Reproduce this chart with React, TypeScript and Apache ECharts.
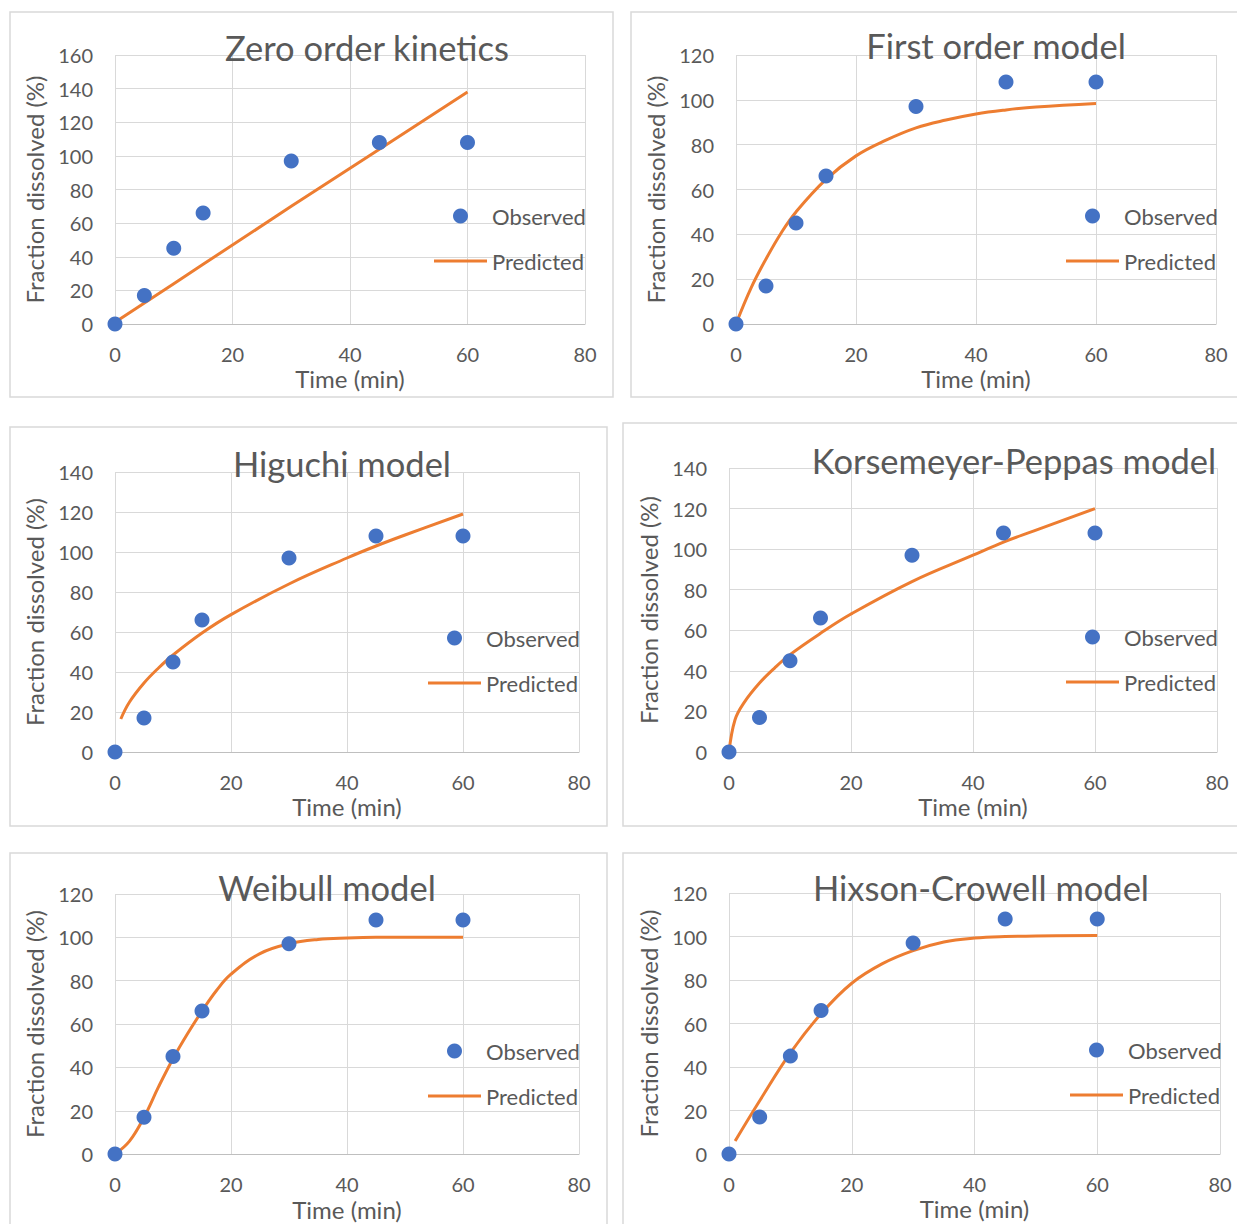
import React, { useEffect, useRef } from "react";
import * as echarts from "echarts";

// Observed dissolution data (shared by all six panels)
const obsTime = [0, 5, 10, 15, 30, 45, 60];
const observed = [0, 17, 45, 66, 97, 108, 108];

// Predicted curves
const zeroTime = [0, 5, 10, 15, 30, 45, 60];
const zeroPred = [1, 12.5, 24, 35.5, 70, 104, 138];

const firstTime = [0, 2.5, 5, 7.5, 10, 15, 20, 25, 30, 35, 40, 45, 50, 60];
const firstPred = [0, 16, 29, 40.5, 50, 64.5, 75, 82, 87.5, 91, 93.7, 95.5, 96.8, 98.4];

const higuchiTime = [1, 2.5, 5, 7.5, 10, 15, 20, 30, 40, 45, 50, 60];
const higuchiPred = [16.5, 25, 34.5, 42, 48.5, 59.5, 68.7, 84, 97, 103, 108.5, 119];

const kpTime = [0, 1, 2.5, 5, 7.5, 10, 15, 20, 30, 40, 45, 50, 60];
const kpPred = [0, 16, 24.5, 34, 41.5, 48, 58.5, 68, 84, 97, 103.5, 109, 120];

const weibullTime = [0, 2.5, 5, 7.5, 10, 12.5, 15, 17.5, 20, 25, 30, 35, 40, 45, 50, 60];
const weibullPred = [0, 6, 17, 31, 44, 55.5, 66, 75.5, 83, 92.5, 97, 99, 99.7, 100, 100, 100];

const hixsonTime = [1, 5, 10, 15, 20, 25, 30, 35, 40, 45, 50, 60];
const hixsonPred = [6, 24.5, 46.5, 64.5, 78.5, 87.5, 93.5, 97.5, 99.3, 100, 100.2, 100.5];

const titles = [
  "Zero order kinetics",
  "First order model",
  "Higuchi model",
  "Korsemeyer-Peppas model",
  "Weibull model",
  "Hixson-Crowell model",
];
const yMaxes = [160, 120, 140, 140, 120, 120];
const xTicks = { min: 0, max: 80, interval: 20 };
const predTimes = [zeroTime, firstTime, higuchiTime, kpTime, weibullTime, hixsonTime];
const predValues = [zeroPred, firstPred, higuchiPred, kpPred, weibullPred, hixsonPred];
const smoothFlags = [false, 0.4, 0.4, 0.4, 0.4, 0.4];

// Layout (pixels)
const layout = [
  { box: [10, 12, 603, 385], grid: [115, 55, 470, 269], title: [367, 47], yName: 34, xName: 378, legend: [434, 216] },
  { box: [631, 12, 620, 385], grid: [736, 55, 480, 269], title: [996, 45], yName: 655, xName: 378, legend: [1066, 216] },
  { box: [10, 427, 597, 399], grid: [115, 472, 464, 280], title: [342, 463], yName: 34, xName: 807, legend: [428, 638] },
  { box: [623, 423, 630, 403], grid: [729, 468, 488, 284], title: [1014, 460], yName: 648, xName: 807, legend: [1066, 637] },
  { box: [10, 853, 597, 400], grid: [115, 894, 464, 262], title: [327, 887], yName: 34, xName: 1209, legend: [428, 1051] },
  { box: [623, 853, 630, 400], grid: [729, 893, 491, 261], title: [981, 887], yName: 648, xName: 1207, legend: [1070, 1050] },
];

const FONT = "Lato";
const TEXT = "#595959";
const BLUE = "#4472C4";
const ORANGE = "#ED7D31";
const NAME_SIZE = 24;

function buildOption() {
  const grid: any[] = [];
  const xAxis: any[] = [];
  const yAxis: any[] = [];
  const series: any[] = [];
  const title: any[] = [];
  const legend: any[] = [];
  const graphic: any[] = [];

  layout.forEach((L, i) => {
    const [gl, gt, gw, gh] = L.grid;
    graphic.push({
      type: "rect",
      z: -10,
      shape: { x: L.box[0], y: L.box[1], width: L.box[2], height: L.box[3] },
      style: { fill: "none", stroke: "#d9d9d9", lineWidth: 1.5 },
    });
    grid.push({ left: gl, top: gt, width: gw, height: gh, containLabel: false });
    xAxis.push({
      gridIndex: i,
      type: "value",
      min: xTicks.min,
      max: xTicks.max,
      interval: xTicks.interval,
      axisLine: { show: true, onZero: false, lineStyle: { color: "#bfbfbf", width: 1 } },
      axisTick: { show: false },
      splitLine: { show: true, lineStyle: { color: "#d9d9d9", width: 1 } },
      axisLabel: { fontFamily: FONT, fontSize: 20, color: TEXT, margin: 20 },
      name: "Time (min)",
      nameLocation: "middle",
      nameGap: L.xName - (gt + gh) - 16,
      nameTextStyle: { fontFamily: FONT, fontSize: NAME_SIZE, color: TEXT, lineHeight: 28 },
    });
    yAxis.push({
      gridIndex: i,
      type: "value",
      min: 0,
      max: yMaxes[i],
      interval: 20,
      axisLine: { show: false },
      axisTick: { show: false },
      splitLine: { show: true, lineStyle: { color: "#d9d9d9", width: 1 } },
      axisLabel: { fontFamily: FONT, fontSize: 20, color: TEXT, margin: 22 },
      name: "Fraction dissolved (%)",
      nameLocation: "middle",
      nameGap: gl - L.yName - 14,
      nameTextStyle: { fontFamily: FONT, fontSize: NAME_SIZE, color: TEXT, lineHeight: 28 },
    });
    title.push({
      text: titles[i],
      left: L.title[0],
      top: L.title[1] - 18,
      textAlign: "center",
      padding: 0,
      textStyle: { fontFamily: FONT, fontSize: 34.5, fontWeight: "normal", color: TEXT, lineHeight: 36 },
    });
    legend.push({
      data: [
        { name: "Observed", icon: "circle" },
        { name: "Predicted", icon: "path://M0,0 L53,0 L53,3 L0,3 Z" },
      ],
      orient: "vertical",
      left: L.legend[0],
      top: L.legend[1] - 11,
      padding: 0,
      itemWidth: 53,
      itemHeight: 15,
      itemGap: 23,
      selectedMode: false,
      textStyle: { fontFamily: FONT, fontSize: 22, color: TEXT, lineHeight: 22 },
    });
    series.push({
      name: "Predicted",
      type: "line",
      xAxisIndex: i,
      yAxisIndex: i,
      data: predTimes[i].map((t, j) => [t, predValues[i][j]]),
      symbol: "none",
      smooth: smoothFlags[i],
      lineStyle: { color: ORANGE, width: 3 },
      itemStyle: { color: ORANGE },
      z: 2,
    });
    series.push({
      name: "Observed",
      type: "scatter",
      xAxisIndex: i,
      yAxisIndex: i,
      data: obsTime.map((t, j) => [t, observed[j]]),
      symbol: "circle",
      symbolSize: 15,
      itemStyle: { color: BLUE, opacity: 1 },
      z: 3,
    });
  });

  return {
    animation: false,
    backgroundColor: "#ffffff",
    textStyle: { fontFamily: FONT },
    grid,
    xAxis,
    yAxis,
    series,
    title,
    legend,
    graphic,
  };
}

export default function App() {
  const ref = useRef<HTMLDivElement>(null);
  useEffect(() => {
    if (!ref.current) return;
    const chart = echarts.init(ref.current, undefined, { renderer: "svg" });
    chart.setOption(buildOption() as any);
    return () => chart.dispose();
  }, []);
  return (
    <div
      ref={ref}
      style={{ position: "absolute", left: 0, top: 0, width: 1237, height: 1224, background: "#fff" }}
    />
  );
}
